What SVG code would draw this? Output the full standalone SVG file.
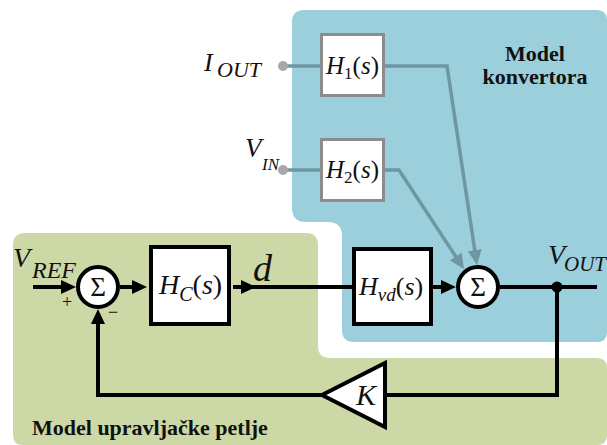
<svg xmlns="http://www.w3.org/2000/svg" width="607" height="445" viewBox="0 0 607 445">
<defs>
<style>
.m{font-family:"Liberation Serif","Times New Roman",serif;font-style:italic;fill:#111}
.u{font-style:normal}
.lbl{font-family:"Liberation Serif","Times New Roman",serif;font-weight:bold;font-size:22px;fill:#111}
.blk{fill:none;stroke:#000;stroke-width:4}
.gry{fill:none;stroke:#6e96a5;stroke-width:3.5}
.box{fill:#fff;stroke:#000;stroke-width:4}
.gbox{fill:#fff;stroke:#8c8c8c;stroke-width:3}
.sig{font-family:"Liberation Serif","Times New Roman",serif;font-size:27px;fill:#111;text-anchor:middle}
</style>
<marker id="ab" markerUnits="userSpaceOnUse" markerWidth="15" markerHeight="14" refX="11" refY="7" orient="auto"><path d="M0,0 L15,7 L0,14 z" fill="#000"/></marker>
<marker id="ag" markerUnits="userSpaceOnUse" markerWidth="15" markerHeight="14" refX="11" refY="7" orient="auto"><path d="M0,0 L15,7 L0,14 z" fill="#6e96a5"/></marker>
</defs>
<rect width="607" height="445" fill="#fff"/>
<g id="region-control">
<path d="M13,245 Q13,233 25,233 H306 Q318,233 318,245 V346 Q318,358 330,358 H597 Q607,358 607,368 V435 Q607,445 597,445 H23 Q13,445 13,435 Z" fill="#ccd9a7"/>
<text class="lbl" x="32" y="435">Model upravljačke petlje</text>
</g>
<g id="region-converter">
<path d="M302,10 H597 Q607,10 607,20 V332 Q607,342 597,342 H354 Q342,342 342,330 V236 Q342,222 328,222 H306 Q292,222 292,208 V22 Q292,10 304,10 Z" fill="#9bcfdc"/>
<text class="lbl" x="535" y="61" text-anchor="middle">Model</text>
<text class="lbl" x="535" y="84" text-anchor="middle">konvertora</text>
</g>
<g id="connectors">
<path class="gry" d="M283,66 H320"/>
<path class="gry" d="M283,170 H320"/>
<path class="gry" d="M385,66 H447 L476.4,261" marker-end="url(#ag)"/>
<path class="gry" d="M385,170 H399 L461.8,265.7" marker-end="url(#ag)"/>
<path class="blk" d="M33,287 H72" marker-end="url(#ab)"/>
<path class="blk" d="M120,287 H143" marker-end="url(#ab)"/>
<path class="blk" d="M233,287 H252" marker-end="url(#ab)"/>
<path class="blk" d="M248,287 H352"/>
<path class="blk" d="M433,287 H452" marker-end="url(#ab)"/>
<path class="blk" d="M500,287 H597"/>
<path class="blk" d="M557,287 V395 H385"/>
<path class="blk" d="M322,395 H98 V313" marker-end="url(#ab)"/>
<circle cx="557" cy="287" r="5.5" fill="#000"/>
</g>
<g id="IOUT">
<circle cx="283" cy="66" r="5" fill="#a8a8a8"/>
<text class="m" x="204" y="71" font-size="26">I<tspan x="217" y="77" font-size="22">OUT</tspan></text>
</g>
<g id="VIN">
<circle cx="283" cy="170" r="5" fill="#a8a8a8"/>
<text class="m" x="245" y="157" font-size="27">V<tspan x="262" y="170" font-size="17">IN</tspan></text>
</g>
<g id="H1">
<rect class="gbox" x="321.5" y="34.5" width="62" height="61"/>
<text class="m" x="326" y="74" font-size="25">H<tspan class="u" font-size="17" dy="5">1</tspan><tspan class="u" dy="-5">(</tspan>s<tspan class="u">)</tspan></text>
</g>
<g id="H2">
<rect class="gbox" x="321.5" y="139.5" width="62" height="61"/>
<text class="m" x="326" y="178" font-size="25">H<tspan class="u" font-size="17" dy="5">2</tspan><tspan class="u" dy="-5">(</tspan>s<tspan class="u">)</tspan></text>
</g>
<g id="VREF">
<text class="m" x="13" y="267" font-size="28">V<tspan x="32" y="278" font-size="24">REF</tspan></text>
<text x="67" y="308" font-family="Liberation Serif, serif" font-size="18" text-anchor="middle" fill="#111">+</text>
<text x="113" y="318" font-family="Liberation Serif, serif" font-size="18" text-anchor="middle" fill="#111">−</text>
</g>
<g id="sum1">
<circle cx="98" cy="287" r="20" fill="#fff" stroke="#000" stroke-width="4"/>
<text class="sig" x="98" y="296">Σ</text>
</g>
<g id="HC">
<rect class="box" x="151" y="247" width="78" height="77"/>
<text class="m" x="159" y="294" font-size="28">H<tspan font-size="20" dy="7">C</tspan><tspan class="u" dy="-7">(</tspan>s<tspan class="u">)</tspan></text>
</g>
<g id="d">
<text class="m" x="253" y="281" font-size="38">d</text>
</g>
<g id="Hvd">
<rect class="box" x="354" y="249" width="77" height="75"/>
<text class="m" x="359" y="295" font-size="26">H<tspan font-size="19" dy="6">vd</tspan><tspan class="u" dy="-6">(</tspan>s<tspan class="u">)</tspan></text>
</g>
<g id="sum2">
<circle cx="478" cy="287" r="20" fill="#fff" stroke="#000" stroke-width="4"/>
<text class="sig" x="478" y="296">Σ</text>
</g>
<g id="VOUT">
<text class="m" x="548" y="264" font-size="28">V<tspan x="564" y="271" font-size="21">OUT</tspan></text>
</g>
<g id="K">
<polygon points="385,363 385,427 322,395" fill="#fff" stroke="#000" stroke-width="4"/>
<text class="m" x="366" y="405" font-size="30" text-anchor="middle">K</text>
</g>
</svg>
